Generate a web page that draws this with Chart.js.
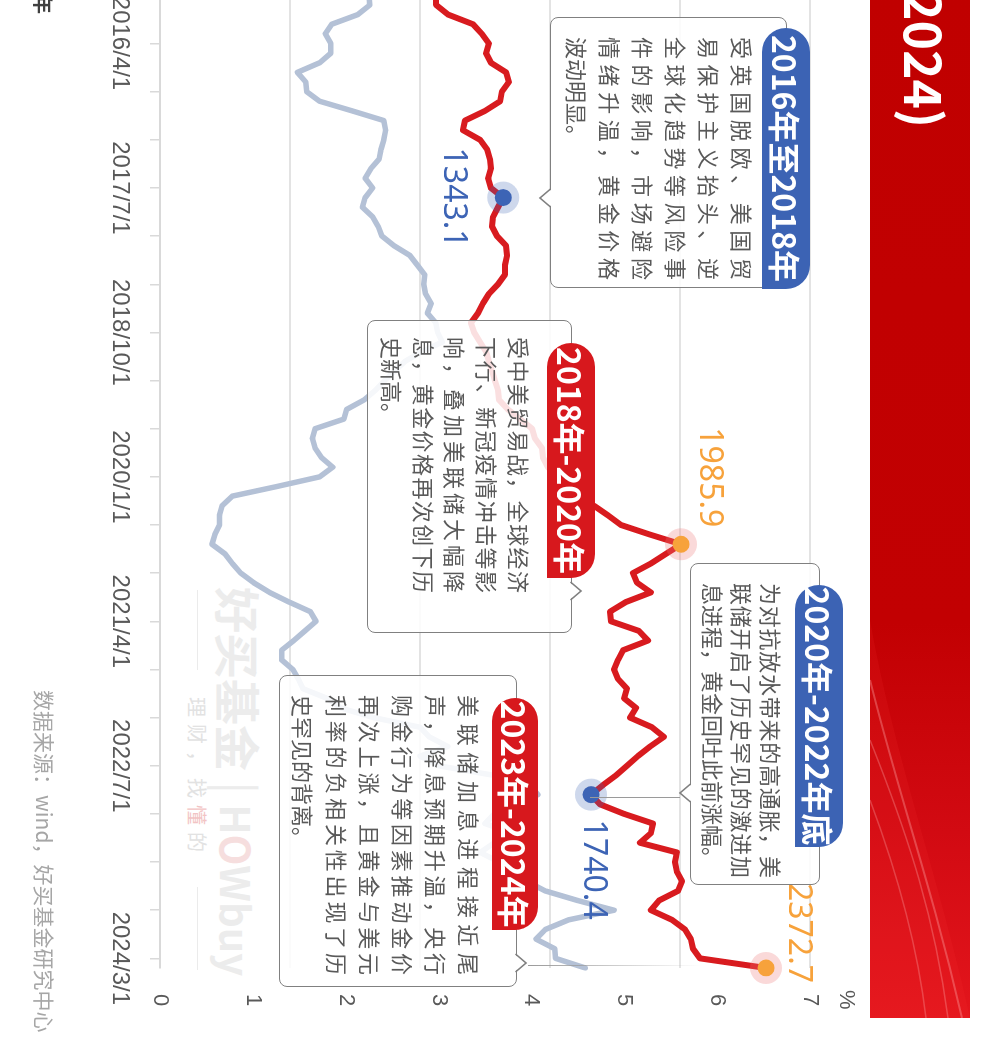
<!DOCTYPE html>
<html lang="zh-CN">
<head>
<meta charset="utf-8">
<title>黄金价格与美债收益率走势</title>
<script src="https://cdn.jsdelivr.net/npm/chart.js@4.4.1/dist/chart.umd.min.js"></script>
<style>
html, body { margin: 0; padding: 0; background: #fff; width: 1000px; height: 1049px; overflow: hidden; }
/* the whole chart is laid out lying down, then turned a quarter clockwise */
#stage {
    position: absolute; left: 0; top: 0; width: 1049px; height: 1000px;
    transform-origin: 0 0; transform: translate(1000px, 0) rotate(90deg);
    font-family: "Noto Sans CJK SC", "Noto Sans", sans-serif;
}
#stage > * { position: absolute; }
.banner { left: -20px; top: 30px; width: 1038px; height: 100px; overflow: hidden;
    background: linear-gradient(90deg, #c00000 0%, #c20002 62%, #d20a12 82%, #e3151c 100%); }
.banner svg { position: absolute; left: 0; top: 0; }
.banner .title { position: absolute; right: 890px; top: -6px; line-height: 100px; color: #fff;
    font-size: 50px; font-weight: 700; white-space: nowrap; }
.box { box-sizing: border-box; border: 1.5px solid #808080; border-radius: 8px; background: rgba(255,255,255,0.86); }
.pill { box-sizing: border-box; color: #fff; font-weight: 700; font-size: 32px; text-align: center;
    border-radius: 24px 24px 0 24px; white-space: nowrap; }
.blue { background: #3c63b4; }
.red { background: #d7181d; }
.txt { color: #595959; font-size: 22px; }
.txt div { text-align: justify; text-align-last: justify; }
.txt div.last { text-align-last: left; }
.ptr { overflow: visible; }
.wm { color: #ececec; font-weight: 700; font-size: 46px; white-space: nowrap; line-height: 60px; }
.wm .lat { font-size: 40px; }
.wm .o { color: #f6dede; }
.wm2 { color: #e2e2e2; font-size: 20px; letter-spacing: 7px; white-space: nowrap; line-height: 24px; }
.wm2 .d { color: #f2c4c4; }
.rule { height: 1px; background: #ebebeb; }
</style>
</head>
<body>
<div id="stage">
    <div class="banner">
        <svg width="1038" height="100" viewBox="0 0 1038 100">
            <path d="M700,100 C820,70 900,40 1038,8" stroke="rgba(255,190,190,0.35)" stroke-width="2" fill="none"/>
            <path d="M760,100 C860,60 940,35 1038,22" stroke="rgba(255,200,200,0.30)" stroke-width="1.5" fill="none"/>
            <path d="M820,100 C900,70 970,52 1038,44" stroke="rgba(255,210,210,0.28)" stroke-width="1.5" fill="none"/>
            <path d="M640,100 C780,75 900,30 1038,0 L1038,100 Z" fill="rgba(255,60,60,0.12)"/>
        </svg>
        <span class="title">黄金价格与美债收益率走势(2016-2024)</span>
    </div>

    <div class="wm" style="left:587px; top:730px;">好买基金 <span style="font-weight:400">|</span> <span class="lat">H<span class="o">O</span>Wbuy</span></div>
    <div class="rule" style="left:590px; top:802px; width:80px;"></div>
    <div class="wm2" style="left:697px; top:791px;">理财，找<span class="d">懂</span>的</div>
    <div class="rule" style="left:887px; top:802px; width:83px;"></div>

    <canvas id="goldChart" width="1109" height="1000" style="left:-60px; top:0; width:1109px; height:1000px;"></canvas>

    <div style="left:990px; top:140px; color:#595959; font-size:22px; font-family:'Liberation Sans',sans-serif;">%</div>
    <div style="left:-6px; top:942px; color:#404040; font-size:20px; font-weight:700;">年</div>
    <div style="left:690px; top:940px; color:#a6a6a6; font-size:21px; white-space:nowrap;">数据来源：wind，好买基金研究中心</div>

    <!-- 2016-2018 -->
    <div class="box" style="left:17px; top:213px; width:271px; height:237px;"></div>
    <svg class="ptr" style="left:189px; top:448px;" width="18" height="13"><polygon points="0,0 9,12 18,0" fill="#fff"/><polyline points="0,1.5 9,12 18,1.5" fill="none" stroke="#808080" stroke-width="1.5"/></svg>
    <div class="pill blue" style="left:28px; top:190px; width:261px; height:48px; line-height:48px;">2016年至2018年</div>
    <div class="txt" style="left:37px; top:241px; width:243px; line-height:33px;">
        <div>受英国脱欧、美国贸</div>
        <div>易保护主义抬头、逆</div>
        <div>全球化趋势等风险事</div>
        <div>件的影响，市场避险</div>
        <div>情绪升温，黄金价格</div>
        <div class="last">波动明显。</div>
    </div>

    <!-- 2018-2020 -->
    <div class="box" style="left:320px; top:428px; width:313px; height:205px;"></div>
    <svg class="ptr" style="left:582px; top:418px;" width="18" height="13"><polygon points="0,13 9,1 18,13" fill="#fff"/><polyline points="0,11.5 9,1 18,11.5" fill="none" stroke="#808080" stroke-width="1.5"/></svg>
    <div class="pill red" style="left:343px; top:405px; width:235px; height:48px; line-height:48px;">2018年-2020年</div>
    <div class="txt" style="left:337px; top:465px; width:256px; line-height:31.75px;">
        <div>受中美贸易战，全球经济</div>
        <div>下行、新冠疫情冲击等影</div>
        <div>响，叠加美联储大幅降</div>
        <div>息，黄金价格再次创下历</div>
        <div class="last">史新高。</div>
    </div>

    <!-- 2020-2022 -->
    <div style="left:797px; top:320px; width:1px; height:90px; background:#9a9a9a;"></div>
    <div class="box" style="left:563px; top:180px; width:322px; height:130px;"></div>
    <svg class="ptr" style="left:784px; top:308px;" width="18" height="13"><polygon points="0,0 9,12 18,0" fill="#fff"/><polyline points="0,1.5 9,12 18,1.5" fill="none" stroke="#808080" stroke-width="1.5"/></svg>
    <div class="pill blue" style="left:585px; top:157px; width:262px; height:48px; line-height:48px;">2020年-2022年底</div>
    <div class="txt" style="left:583px; top:213.5px; width:295px; line-height:29px;">
        <div>为对抗放水带来的高通胀，美</div>
        <div>联储开启了历史罕见的激进加</div>
        <div class="last">息进程，黄金回吐此前涨幅。</div>
    </div>

    <!-- 2023-2024 -->
    <div style="left:965px; top:300px; width:1px; height:172px; background:linear-gradient(180deg, rgba(154,154,154,0) 0%, #9a9a9a 100%);"></div>
    <div class="box" style="left:675px; top:483px; width:312px; height:238px;"></div>
    <svg class="ptr" style="left:954px; top:473px;" width="18" height="13"><polygon points="0,13 9,1 18,13" fill="#fff"/><polyline points="0,11.5 9,1 18,11.5" fill="none" stroke="#808080" stroke-width="1.5"/></svg>
    <div class="pill red" style="left:698px; top:462px; width:232px; height:46px; line-height:46px;">2023年-2024年</div>
    <div class="txt" style="left:695px; top:513.5px; width:280px; line-height:33.2px;">
        <div>美联储加息进程接近尾</div>
        <div>声，降息预期升温，央行</div>
        <div>购金行为等因素推动金价</div>
        <div>再次上涨，且黄金与美元</div>
        <div>利率的负相关性出现了历</div>
        <div class="last">史罕见的背离。</div>
    </div>
</div>

<script>
// Données mensuelles (2015/11 - 2024/4)
const months = [
    '2015/11/1', '2015/12/1',
    '2016/1/1', '2016/2/1', '2016/3/1', '2016/4/1', '2016/5/1', '2016/6/1', '2016/7/1', '2016/8/1', '2016/9/1', '2016/10/1', '2016/11/1', '2016/12/1',
    '2017/1/1', '2017/2/1', '2017/3/1', '2017/4/1', '2017/5/1', '2017/6/1', '2017/7/1', '2017/8/1', '2017/9/1', '2017/10/1', '2017/11/1', '2017/12/1',
    '2018/1/1', '2018/2/1', '2018/3/1', '2018/4/1', '2018/5/1', '2018/6/1', '2018/7/1', '2018/8/1', '2018/9/1', '2018/10/1', '2018/11/1', '2018/12/1',
    '2019/1/1', '2019/2/1', '2019/3/1', '2019/4/1', '2019/5/1', '2019/6/1', '2019/7/1', '2019/8/1', '2019/9/1', '2019/10/1', '2019/11/1', '2019/12/1',
    '2020/1/1', '2020/2/1', '2020/3/1', '2020/4/1', '2020/5/1', '2020/6/1', '2020/7/1', '2020/8/1', '2020/9/1', '2020/10/1', '2020/11/1', '2020/12/1',
    '2021/1/1', '2021/2/1', '2021/3/1', '2021/4/1', '2021/5/1', '2021/6/1', '2021/7/1', '2021/8/1', '2021/9/1', '2021/10/1', '2021/11/1', '2021/12/1',
    '2022/1/1', '2022/2/1', '2022/3/1', '2022/4/1', '2022/5/1', '2022/6/1', '2022/7/1', '2022/8/1', '2022/9/1', '2022/10/1', '2022/11/1', '2022/12/1',
    '2023/1/1', '2023/2/1', '2023/3/1', '2023/4/1', '2023/5/1', '2023/6/1', '2023/7/1', '2023/8/1', '2023/9/1', '2023/10/1', '2023/11/1', '2023/12/1',
    '2024/1/1', '2024/2/1', '2024/3/1', '2024/4/1'
];

// Prix de l'or (USD/once), axe caché de gauche
const goldPrice = [
    1062, 1062,
    1108, 1204, 1238, 1265, 1254, 1273, 1331, 1342, 1315, 1308, 1250, 1173,
    1165, 1231, 1258, 1269, 1273, 1262, 1273, 1320, 1300, 1281, 1277, 1296,
    1331, 1335, 1327, 1327, 1300, 1265, 1242, 1223, 1196, 1208, 1231, 1254,
    1265, 1277, 1288, 1300, 1304, 1338, 1385, 1431, 1442, 1469, 1473, 1492,
    1531, 1577, 1623, 1669, 1723, 1773, 1885, 2004, 1946, 1888, 1819, 1835,
    1888, 1792, 1731, 1735, 1842, 1877, 1781, 1762, 1746, 1762, 1796, 1785,
    1831, 1808, 1892, 1938, 1885, 1838, 1796, 1754, 1704, 1658, 1692, 1785,
    1896, 1888, 1846, 1988, 1981, 1988, 2008, 1992, 1919, 1888, 1969, 2019,
    2042, 2050, 2077, 2331
];

// Rendement du Trésor US à 10 ans (%)
const usYield10y = [
    2.25, 2.26,
    2.13, 1.85, 1.78, 1.84, 1.84, 1.72, 1.48, 1.57, 1.58, 1.72, 2.07, 2.41,
    2.43, 2.41, 2.38, 2.36, 2.27, 2.21, 2.29, 2.21, 2.18, 2.29, 2.35, 2.39,
    2.52, 2.69, 2.77, 2.85, 2.84, 2.86, 2.92, 2.88, 2.97, 2.99, 3.04, 2.82,
    2.64, 2.53, 2.42, 2.32, 2.20, 2.01, 1.98, 1.67, 1.64, 1.67, 1.74, 1.86,
    1.72, 1.26, 0.78, 0.67, 0.64, 0.64, 0.59, 0.56, 0.70, 0.78, 0.87, 1.01,
    1.18, 1.39, 1.62, 1.68, 1.56, 1.44, 1.31, 1.31, 1.43, 1.49, 1.54, 1.80,
    1.95, 2.30, 2.80, 2.90, 3.10, 2.80, 3.00, 3.60, 3.98, 4.07, 3.80, 3.60,
    3.50, 3.80, 3.60, 3.45, 3.65, 3.80, 3.95, 4.15, 4.50, 4.89, 4.40, 4.15,
    4.05, 4.25, 4.26, 4.58
];

// Axe des dates : un trait tous les 5 mois, quelques libellés seulement
const tickStart = '2016/4/1';
const tickEvery = 5;
const tickLabels = ['2016/4/1', '2017/7/1', '2018/10/1', '2020/1/1', '2021/4/1', '2022/7/1', '2024/3/1'];

// Points mis en avant sur la courbe de l'or
const markMonths = ['2017/8/1', '2020/8/1', '2022/10/1', '2024/4/1'];
const markNotes = ['1343.1', '1985.9', '1740.4', '2372.7'];
const markColors = ['#3d64b5', '#f7a23b', '#3d64b5', '#f7a23b'];
const haloColors = ['rgba(61,100,181,0.25)', 'rgba(238,120,120,0.28)', 'rgba(61,100,181,0.25)', 'rgba(238,120,120,0.28)'];
const noteOffsets = [[0, 50], [-67, -28], [75, -2], [-35, -32]];

function markIndex(i) {
    return markMonths.indexOf(months[i]);
}

// Étiquettes des valeurs près des points
const noteLabels = {
    id: 'noteLabels',
    afterDatasetsDraw(chart) {
        const ctx = chart.ctx;
        const meta = chart.getDatasetMeta(0);
        markMonths.forEach((m, k) => {
            const pt = meta.data[months.indexOf(m)];
            if (!pt) return;
            ctx.save();
            ctx.font = '32px "Noto Sans", sans-serif';
            ctx.fillStyle = markColors[k];
            ctx.textAlign = 'center';
            ctx.textBaseline = 'middle';
            ctx.fillText(markNotes[k], pt.x + noteOffsets[k][0], pt.y + noteOffsets[k][1]);
            ctx.restore();
        });
    }
};

const startIdx = months.indexOf(tickStart);

new Chart(document.getElementById('goldChart'), {
    type: 'line',
    data: {
        labels: months,
        datasets: [
            {
                label: '伦敦金现价',
                data: goldPrice,
                yAxisID: 'yGold',
                borderColor: '#d81b1f',
                borderWidth: 6,
                borderJoinStyle: 'round',
                borderCapStyle: 'round',
                pointRadius: 0,
                tension: 0,
                order: 2
            },
            {
                label: '美国10年期国债收益率',
                data: usYield10y,
                yAxisID: 'yRate',
                borderColor: '#b4c1d6',
                borderWidth: 5.5,
                borderJoinStyle: 'round',
                borderCapStyle: 'round',
                pointRadius: 0,
                tension: 0,
                order: 3
            },
            {
                label: 'halo',
                data: goldPrice,
                yAxisID: 'yGold',
                showLine: false,
                pointRadius: c => markIndex(c.dataIndex) >= 0 ? 16 : 0,
                pointBackgroundColor: c => haloColors[markIndex(c.dataIndex)] || 'transparent',
                pointBorderWidth: 0,
                order: 1
            },
            {
                label: 'dot',
                data: goldPrice,
                yAxisID: 'yGold',
                showLine: false,
                pointRadius: c => markIndex(c.dataIndex) >= 0 ? 8.5 : 0,
                pointBackgroundColor: c => markColors[markIndex(c.dataIndex)] || 'transparent',
                pointBorderWidth: 0,
                order: 0
            }
        ]
    },
    options: {
        responsive: false,
        animation: false,
        events: [],
        layout: { padding: { left: 55.35, right: 0, top: 190, bottom: 0 } },
        plugins: {
            legend: { display: false },
            tooltip: { enabled: false }
        },
        scales: {
            x: {
                type: 'category',
                offset: false,
                afterFit(scale) { scale.height = 160; },
                grid: { display: true, drawOnChartArea: false, drawTicks: true, tickLength: 10, color: '#d9d9d9', lineWidth: 1.5 },
                border: { display: true, color: '#d9d9d9', width: 2 },
                ticks: {
                    autoSkip: false,
                    maxRotation: 0,
                    minRotation: 0,
                    padding: 16,
                    color: '#595959',
                    font: { family: 'Liberation Sans', size: 24 },
                    callback(value, index) {
                        const lab = months[index];
                        if (tickLabels.includes(lab)) return lab;
                        const rel = index - startIdx;
                        if (rel >= 0 && rel % tickEvery === 0) return '';
                        return null;
                    }
                }
            },
            yGold: {
                position: 'left',
                min: 0,
                max: 2500,
                afterFit(scale) { scale.width = 0; },
                ticks: { display: false, stepSize: 500 },
                grid: { display: true, drawTicks: false, color: '#e3e3e3', lineWidth: 2 },
                border: { display: false }
            },
            yRate: {
                position: 'right',
                min: 0,
                max: 7,
                afterFit(scale) { scale.width = 81; },
                grid: { display: false, drawTicks: false },
                border: { display: false },
                ticks: {
                    stepSize: 1,
                    padding: 26,
                    color: '#595959',
                    font: { family: 'Liberation Sans', size: 22 }
                }
            }
        }
    },
    plugins: [noteLabels]
});
</script>
</body>
</html>
